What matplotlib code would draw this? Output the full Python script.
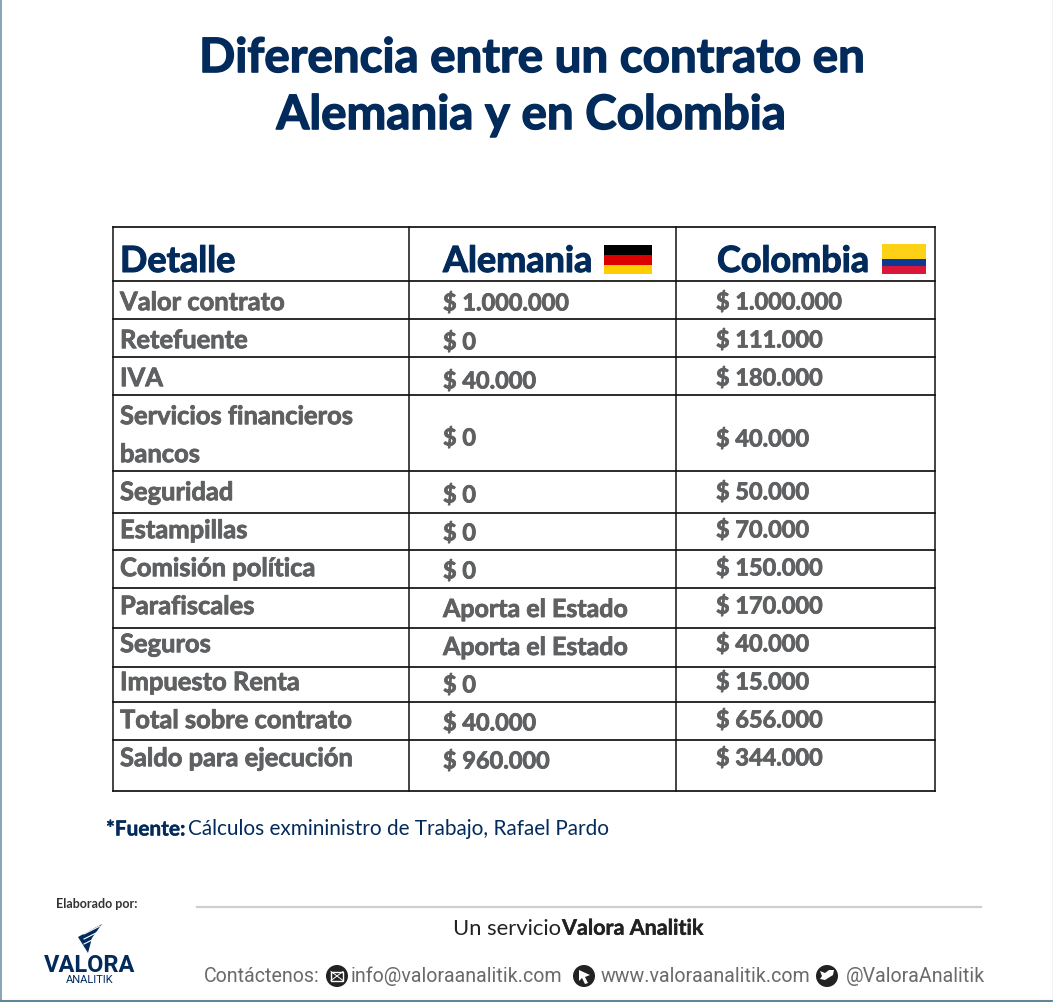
import matplotlib
matplotlib.use("Agg")
import matplotlib.pyplot as plt
import matplotlib.patheffects as pe
from matplotlib.patches import Rectangle, Circle, Polygon

plt.rcParams['font.family'] = ['Lato', 'Roboto', 'DejaVu Sans']

title_lines = ["Diferencia entre un contrato en", "Alemania y en Colombia"]
headers = ["Detalle", "Alemania", "Colombia"]
detalle = ["Valor contrato", "Retefuente", "IVA", "Servicios financieros\nbancos", "Seguridad",
           "Estampillas", "Comisión política", "Parafiscales", "Seguros", "Impuesto Renta",
           "Total sobre contrato", "Saldo para ejecución"]
alemania = ["$ 1.000.000", "$ 0", "$ 40.000", "$ 0", "$ 0", "$ 0", "$ 0",
            "Aporta el Estado", "Aporta el Estado", "$ 0", "$ 40.000", "$ 960.000"]
colombia = ["$ 1.000.000", "$ 111.000", "$ 180.000", "$ 40.000", "$ 50.000", "$ 70.000",
            "$ 150.000", "$ 170.000", "$ 40.000", "$ 15.000", "$ 656.000", "$ 344.000"]

row_lines = [227, 281, 319, 357, 395, 471, 513, 550, 588, 628, 667, 702, 740, 791]
col_lines = [113, 409, 676, 935]
y_detalle = [301, 339, 377, 434, 491, 529, 567, 605, 643, 681, 719, 757]
y_alemania = [302, 341, 380, 437, 494, 532, 570, 608, 646, 684, 722, 760]
y_colombia = [301, 339, 377, 438, 491, 529, 567, 605, 643, 681, 719, 757]

NAVY = "#022b5c"
GREY = "#5f6062"

fig = plt.figure(figsize=(10.53, 10.02), dpi=100, facecolor="white")
ax = fig.add_axes([0, 0, 1, 1])
ax.set_xlim(0, 1053)
ax.set_ylim(1002, 0)
ax.axis("off")

def t(x, y, s, size, color, weight="bold", ha="left", stroke=0.0):
    # y is the centre of the capitals; text sits on its baseline
    txt = ax.text(x, y + 0.36 * size, s, fontsize=size * 0.72, color=color, fontweight=weight,
                  ha=ha, va="baseline")
    if stroke:
        txt.set_path_effects([pe.withStroke(linewidth=stroke, foreground=color)])
    return txt

# page border
ax.plot([0.5, 0.5], [0, 1002], color="#6f95a8", lw=1.2)
ax.plot([0, 1053], [1000.5, 1000.5], color="#5f8799", lw=1.5)
ax.plot([1052.5, 1052.5], [0, 1002], color="#b8cad3", lw=1)

# title
t(532, 55, title_lines[0], 47.5, NAVY, ha="center", stroke=1.0)
t(531, 112, title_lines[1], 47.5, NAVY, ha="center", stroke=1.0)

# table grid
for y in row_lines:
    ax.plot([col_lines[0], col_lines[-1]], [y, y], color="#111111", lw=1.25, solid_capstyle="projecting")
for x in col_lines:
    ax.plot([x, x], [row_lines[0], row_lines[-1]], color="#111111", lw=1.1, solid_capstyle="projecting")

# headers
t(120, 259, headers[0], 36, NAVY, stroke=0.8)
t(443, 259, headers[1], 36, NAVY, stroke=0.8)
t(717, 259, headers[2], 36, NAVY, stroke=0.8)

# flags
for y, h, c in [(245, 10, "#000000"), (255, 9.5, "#dd0000"), (264.5, 9.5, "#ffce00")]:
    ax.add_patch(Rectangle((604, y), 48, h, fc=c, ec="none"))
for y, h, c in [(244, 15, "#fcd116"), (259, 7, "#0b3a94"), (266, 8, "#d8173a")]:
    ax.add_patch(Rectangle((882, y), 44, h, fc=c, ec="none"))

# rows
for label, y in zip(detalle, y_detalle):
    if "\n" in label:
        a, b = label.split("\n")
        t(120, y - 19, a, 25.5, GREY, stroke=0.6)
        t(120, y + 19, b, 25.5, GREY, stroke=0.6)
    else:
        t(120, y, label, 25.5, GREY, stroke=0.6)
for col_x, values, ys in ((443, alemania, y_alemania), (716, colombia, y_colombia)):
    for label, y in zip(values, ys):
        size = 25 if label[0] != "$" else 23.5
        t(col_x, y, label, size, GREY, stroke=0.6)

# source
t(106, 828, "*Fuente:", 20.8, NAVY, stroke=0.3)
t(188, 828, "Cálculos exmininistro de Trabajo, Rafael Pardo", 20.8, NAVY, weight="normal")

# footer
t(97, 904, "Elaborado por:", 12.5, "#333333", ha="center")
ax.plot([197, 981], [907, 907], color="#cfcfcf", lw=1.6)
t(453, 927, "Un servicio", 22, "#222222", weight="normal")
t(562, 927, "Valora Analitik", 21.5, "#222222", stroke=0.3)
ax.add_patch(Polygon([(102, 924), (78, 937), (88, 953), (92, 938)], fc=NAVY, ec="none"))
for y0 in (931, 936, 941):
    ax.plot([84, 100], [y0 + 3, y0 - 5], color="white", lw=0.8)
ax.text(90, 965, "VALORA", fontsize=17, color=NAVY, fontweight="bold", family="Roboto",
        ha="center", va="center")
ax.text(90, 980, "ANALITIK", fontsize=8, color=NAVY, family="Roboto", ha="center", va="center")

FOOT = "#6a6a6a"
kw = dict(fontsize=14.1, color=FOOT, va="center", ha="left", family="Roboto")
ax.text(204, 976, "Contáctenos:", **kw)
ax.text(351, 976, "info@valoraanalitik.com", **kw)
ax.text(601, 976, "www.valoraanalitik.com", **kw)
ax.text(846, 976, "@ValoraAnalitik", **kw)
for x in (337, 584, 827):
    ax.add_patch(Circle((x, 976), 11, fc="#222222", ec="none"))
ax.add_patch(Rectangle((331, 971.5), 12, 9, fc="none", ec="white", lw=1))
ax.plot([331, 343], [971.5, 980.5], color="white", lw=0.7)
ax.plot([331, 343], [980.5, 971.5], color="white", lw=0.7)
ax.add_patch(Polygon([(579, 970), (590, 975), (585, 977), (588, 983), (585, 984), (582, 978), (579, 981)], fc="white", ec="none"))
ax.add_patch(Polygon([(820, 979), (825, 980), (833, 975), (834, 970), (829, 970), (825, 973), (820, 971), (822, 976)], fc="white", ec="none"))

fig.savefig("out.png", dpi=100, facecolor="white")
